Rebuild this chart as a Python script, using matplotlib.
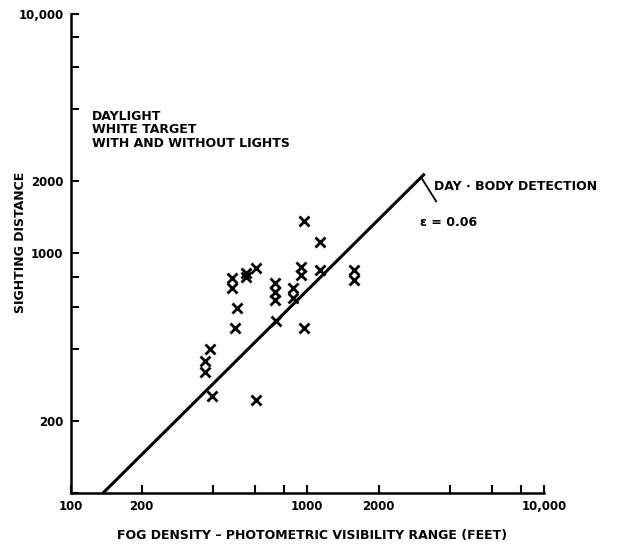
import matplotlib
matplotlib.use('Agg')
import matplotlib.pyplot as plt

plt.rcParams['font.family'] = ['DejaVu Sans']
plt.rcParams['font.weight'] = 'bold'

# 观测点 (fog visibility range, sighting distance), feet
fog_x = [970, 1130, 940, 940, 1130, 1570, 1570, 610, 550, 550, 480, 480,
         730, 730, 730, 870, 870, 505, 740, 495, 965, 390, 370, 370, 395, 610]
sight_y = [1370, 1120, 880, 810, 850, 850, 775, 870, 830, 795, 790, 715,
           750, 690, 640, 715, 650, 595, 525, 490, 490, 400, 355, 320, 255, 245]

# 拟合直线 (epsilon = 0.06)
fit_x = [137, 3130]
fit_y = [100, 2150]

x_ticks = [100, 200, 400, 600, 800, 1000, 2000, 4000, 6000, 8000, 10000]
x_labels = ['100', '200', '', '', '', '1000', '2000', '', '', '', '10,000']
y_ticks = [100, 200, 400, 600, 800, 1000, 2000, 4000, 6000, 8000, 10000]
y_labels = ['', '200', '', '', '', '1000', '2000', '', '', '', '10,000']

fig = plt.figure(figsize=(6.24, 5.51), dpi=100)
ax = fig.add_axes([0.113, 0.105, 0.759, 0.870])
ax.set_xscale('log')
ax.set_yscale('log')
ax.set_xlim(100, 10000)
ax.set_ylim(100, 10000)

ax.plot(fit_x, fit_y, color='black', lw=2.2, solid_capstyle='butt')
ax.plot(fog_x, sight_y, 'x', color='black', markersize=6.5, mew=2.0)

ax.spines['top'].set_visible(False)
ax.spines['right'].set_visible(False)
for s in ['left', 'bottom']:
    ax.spines[s].set_linewidth(1.8)

ax.minorticks_off()
ax.set_xticks(x_ticks)
ax.set_xticklabels(x_labels)
ax.set_yticks(y_ticks)
ax.set_yticklabels(y_labels)
ax.tick_params(direction='in', length=6, width=1.5, labelsize=8.5, pad=5)

ax.text(123, 3970, 'DAYLIGHT\nWHITE TARGET\nWITH AND WITHOUT LIGHTS',
        fontsize=9, fontweight='bold', va='top', ha='left', linespacing=1.05)
ax.plot([3050, 3500], [2050, 1650], color='black', lw=1.3)
ax.text(3440, 1900, 'DAY · BODY DETECTION', fontsize=9, fontweight='bold',
        va='center', ha='left')
ax.text(2980, 1340, 'ε = 0.06', fontsize=9, fontweight='bold',
        va='center', ha='left')

fig.text(0.033, 0.56, 'SIGHTING DISTANCE', rotation=90, fontsize=9,
         fontweight='bold', va='center', ha='center')
fig.text(0.5, 0.028, 'FOG DENSITY – PHOTOMETRIC VISIBILITY RANGE (FEET)',
         fontsize=9, fontweight='bold', va='center', ha='center')

fig.savefig('out.png', dpi=100)
